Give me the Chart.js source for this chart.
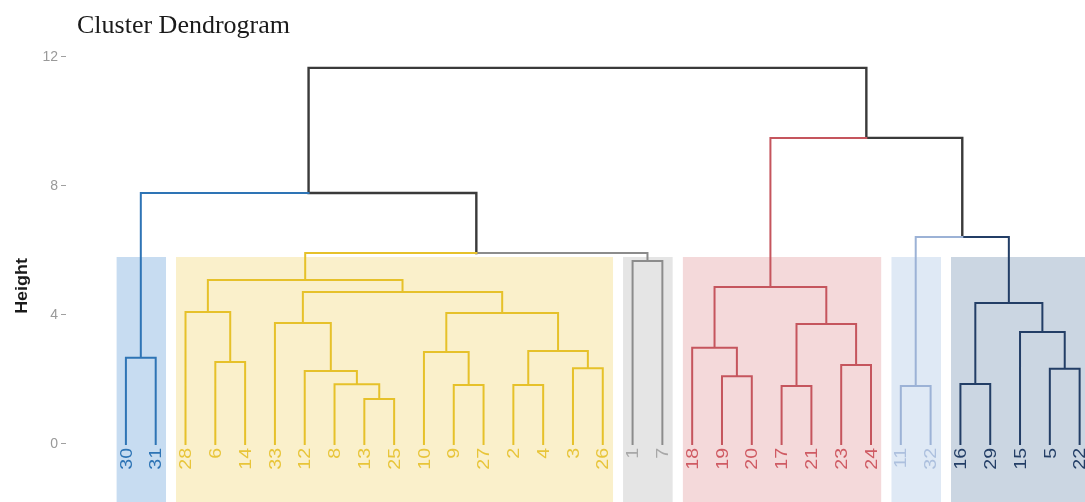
<!DOCTYPE html>
<html>
<head>
<meta charset="utf-8">
<script src="https://cdn.jsdelivr.net/npm/chart.js@4.4.1/dist/chart.umd.min.js"></script>
<style>
  html, body { margin: 0; padding: 0; background: #fff; }
  #wrap { width: 1085px; height: 502px; }
</style>
</head>
<body>
<div id="wrap"><canvas id="dend" width="1085" height="502"></canvas></div>
<script>
const chartTitle = 'Cluster Dendrogram';
const yTitle = 'Height';
const yTicks = [0, 4, 8, 12];

// leaves, left to right
const leafOrder = [30, 31, 28, 6, 14, 33, 12, 8, 13, 25, 10, 9, 27, 2, 4, 3, 26, 1, 7, 18, 19, 20, 17, 21, 23, 24, 11, 32, 16, 29, 15, 5, 22];
// cluster of each leaf (same order as leafOrder)
const leafCluster = [0, 0, 1, 1, 1, 1, 1, 1, 1, 1, 1, 1, 1, 1, 1, 1, 1, 2, 2, 3, 3, 3, 3, 3, 3, 3, 4, 4, 5, 5, 5, 5, 5];

// hclust style merge table: negative = leaf number, positive = earlier merge (1-based)
const mergeLeft   = [-13, -11, -17, -9, -2, -8, -16, -19, -12, -5, -3, -23, -6, -30, -10, 5, -18, -15, 3, -33, 15, -28, 7, 20, 17, 22, -1, 26, 2, 14, 25, 30];
const mergeRight  = [-25, -32, -21, -27, -4, 1, -29, -20, 6, -22, -26, -24, -14, -31, 4, 11, 8, 10, 12, 9, 16, 13, 18, 21, 19, 24, -7, 27, 23, 28, 29, 31];
const mergeHeight = [1.39, 1.80, 1.80, 1.83, 1.83, 1.85, 1.86, 2.10, 2.26, 2.33, 2.35, 2.45, 2.54, 2.67, 2.85, 2.88, 2.98, 3.47, 3.72, 3.75, 4.06, 4.09, 4.37, 4.71, 4.87, 5.08, 5.67, 5.92, 6.42, 7.78, 9.49, 11.66];

// height where the cluster boxes stop
const rectTop = 5.8;

const lineColors  = ['#2e74b5', '#e6c12a', '#8c8c8c', '#c5555d', '#9cb2d6', '#233e66'];
const labelColors = ['#2e74b5', '#e8c53a', '#a8a8a8', '#cf5b63', '#adc0de', '#233e66'];
const rectColors  = ['#c7dcf1', '#faf0cb', '#e5e5e5', '#f4d9da', '#dfe9f5', '#cbd6e2'];
const trunkColor  = '#3a3a3a';

// ---- layout of the tree ----
const leafPos = {};
leafOrder.forEach((lab, i) => { leafPos[lab] = i; });
const nodes = [];
function ref(r) {
  if (r < 0) { const i = leafPos[-r]; return { x: i, h: 0, cl: leafCluster[i] }; }
  return nodes[r - 1];
}
for (let k = 0; k < mergeHeight.length; k++) {
  const a = ref(mergeLeft[k]), b = ref(mergeRight[k]);
  nodes.push({ x: (a.x + b.x) / 2, h: mergeHeight[k], cl: a.cl === b.cl ? a.cl : -1, kids: [a, b] });
}

// elbows grouped by colour, gaps between them
const segs = {};
nodes.forEach(n => {
  n.kids.forEach(c => {
    const key = c.cl;
    if (!segs[key]) segs[key] = [];
    segs[key].push({ x: n.x, y: n.h }, { x: c.x, y: n.h }, { x: c.x, y: c.h }, { x: c.x, y: null });
  });
});

const datasets = [];
Object.keys(segs).forEach(key => {
  const cl = parseInt(key);
  datasets.push({
    data: segs[key], showLine: true, spanGaps: false, fill: false,
    borderColor: cl < 0 ? trunkColor : lineColors[cl],
    borderWidth: cl < 0 ? 2.4 : 2, pointRadius: 0,
    borderJoinStyle: 'miter', borderCapStyle: 'square', order: 0
  });
});

// cluster boxes
rectColors.forEach((col, cl) => {
  const idx = leafCluster.map((c, i) => c === cl ? i : -1).filter(i => i >= 0);
  const lo = Math.min(...idx) - 0.32, hi = Math.max(...idx) + 0.35;
  datasets.push({
    data: [{ x: lo, y: rectTop }, { x: hi, y: rectTop }], showLine: true,
    fill: 'start', backgroundColor: col, borderWidth: 0, pointRadius: 0, order: 5
  });
});

const textPlugin = {
  id: 'dendText',
  afterDatasetsDraw(chart) {
    const { ctx, scales: { x, y } } = chart;
    ctx.save();
    ctx.fillStyle = '#1a1a1a';
    ctx.font = '26px "Liberation Serif"';
    ctx.textAlign = 'left';
    ctx.textBaseline = 'alphabetic';
    ctx.fillText(chartTitle, 77, 33);

    ctx.save();
    ctx.translate(23, 286);
    ctx.scale(1, 1.12);
    ctx.rotate(-Math.PI / 2);
    ctx.font = 'bold 16px "Liberation Sans"';
    ctx.textAlign = 'center';
    ctx.textBaseline = 'middle';
    ctx.fillText(yTitle, 0, 0);
    ctx.restore();

    const y0 = y.getPixelForValue(0) + 4;
    leafOrder.forEach((lab, i) => {
      ctx.save();
      ctx.translate(x.getPixelForValue(i), y0);
      ctx.scale(1, 1.15);
      ctx.rotate(-Math.PI / 2);
      ctx.font = '17px "Liberation Sans"';
      ctx.fillStyle = labelColors[leafCluster[i]];
      ctx.textAlign = 'right';
      ctx.textBaseline = 'middle';
      ctx.fillText(String(lab), 0, 1);
      ctx.restore();
    });
    ctx.restore();
  }
};

new Chart(document.getElementById('dend'), {
  type: 'scatter',
  data: { datasets },
  options: {
    responsive: false,
    animation: false,
    layout: { padding: { top: 45, left: 0, right: 0, bottom: 0 } },
    plugins: { legend: { display: false }, tooltip: { enabled: false } },
    scales: {
      x: { type: 'linear', display: false, min: -2.01, max: 32.18 },
      y: {
        type: 'linear', min: -1.8, max: 12.37,
        afterBuildTicks: s => { s.ticks = yTicks.map(v => ({ value: v })); },
        afterFit: s => { s.width = 66; s.paddingTop = 0; s.paddingBottom = 0; },
        grid: { drawOnChartArea: false, drawTicks: true, tickLength: 5, color: '#a0a0a0' },
        border: { display: false },
        ticks: { color: '#999', font: { size: 14, family: 'Liberation Sans' }, padding: 3 }
      }
    }
  },
  plugins: [textPlugin]
});
</script>
</body>
</html>
